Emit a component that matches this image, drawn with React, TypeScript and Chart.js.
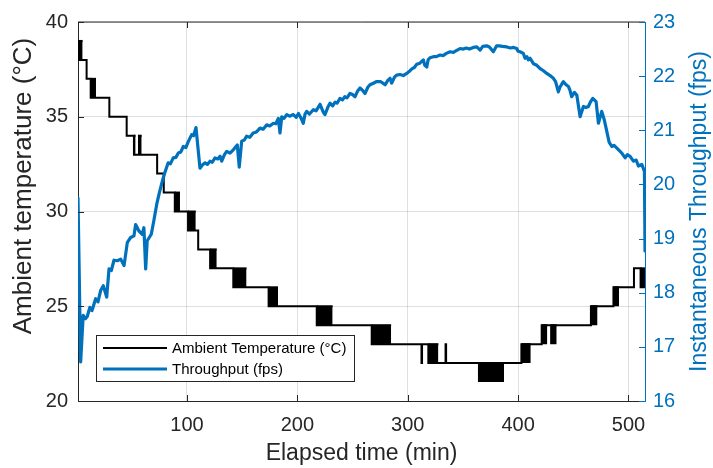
import React, { useEffect, useRef } from 'react';
import { Chart, registerables } from 'chart.js';

Chart.register(...registerables);

// ---- Data ----
const xTicks = [100, 200, 300, 400, 500];
const leftTicks = [20, 25, 30, 35, 40];
const rightTicks = [16, 17, 18, 19, 20, 21, 22, 23];

const tempLabel = 'Ambient Temperature (°C)';
const fpsLabel = 'Throughput (fps)';
const xTitle = 'Elapsed time (min)';
const leftTitle = 'Ambient temperature (°C)';
const rightTitle = 'Instantaneous Throughput (fps)';

// temperature change points: [time (min), new temperature]
const tempSteps: [number, number][] = [
  [1.3, 38], [9.1, 37], [12.8, 36], [29.7, 35], [45.4, 34], [52, 33], [73, 32], [79, 31],
  [89, 30], [101, 29], [110.2, 28], [121, 27], [142, 26], [174, 25], [217.6, 24], [267.4, 23],
  [312.5, 22], [313, 23], [318.7, 22], [334.3, 23], [334.8, 22], [403, 23], [421.4, 24],
  [466, 25], [486.4, 26], [505, 27], [511, 26], [515, 26],
];

// periods where the sensor toggled between two values: [start, end, low, high]
const tempBands: [number, number, number, number][] = [
  [1.3, 5.5, 38, 39], [12.8, 17.6, 36, 37], [52, 53.5, 33, 34], [55.6, 59, 33, 34],
  [89, 93.7, 30, 31], [101, 108, 29, 30], [121, 127, 27, 28], [142, 154, 26, 27],
  [174, 182.5, 25, 26], [217.6, 232, 24, 25], [267.4, 285, 23, 24], [318.7, 327.8, 22, 23],
  [363.5, 387.3, 21, 22], [403, 411.5, 22, 23], [421.4, 426.5, 23, 24], [429, 435, 23, 24],
  [466, 472, 24, 25], [486.4, 491.5, 25, 26], [511, 515, 26, 27],
];

const fpsTime = [
  1.3, 3.7, 6.0, 8.0, 9.7, 12.0, 14.0, 17.3, 19.4, 21.8, 24.2, 27.3, 29.4, 31.5, 33.9, 36.9,
  40.0, 43.0, 46.0, 49.0, 52.0, 53.5, 56.5, 59.5, 61.0, 62.6, 64.0, 67.7, 70.0, 72.6, 74.7, 77.7,
  80.0, 83.0, 85.0, 87.6, 90.0, 92.2, 94.5, 96.7, 99.0, 101.2, 104.3, 106.0, 108.2, 111.8, 114.0,
  116.4, 118.5, 120.9, 123.0, 125.4, 128.0, 130.0, 131.5, 134.0, 136.0, 139.0, 142.0, 145.6,
  147.4, 149.6, 152.0, 154.0, 157.0, 160.0, 163.0, 166.2, 169.0, 172.3, 175.0, 178.3, 180.5,
  182.8, 184.3, 185.9, 188.0, 190.4, 193.0, 196.4, 199.0, 201.0, 203.5, 205.4, 207.0, 208.5,
  211.0, 214.5, 217.0, 220.6, 223.6, 225.0, 228.0, 229.6, 232.0, 234.2, 236.0, 238.7, 241.0,
  243.0, 245.0, 247.7, 250.0, 252.3, 254.5, 256.8, 259.0, 261.3, 264.0, 265.8, 268.9, 271.9,
  275.0, 277.0, 279.5, 282.0, 284.0, 285.5, 288.0, 290.0, 293.0, 296.0, 299.1, 301.0, 304.0,
  306.0, 308.2, 311.0, 314.2, 315.5, 317.3, 318.5, 320.2, 323.3, 326.0, 329.3, 332.3, 335.0,
  338.4, 341.4, 344.0, 347.5, 350.4, 353.0, 356.0, 359.5, 362.6, 365.6, 368.0, 371.6, 374.0,
  377.6, 380.6, 383.0, 386.0, 389.8, 393.0, 396.0, 398.8, 400.0, 401.8, 404.8, 406.3, 408.0,
  409.3, 410.9, 413.9, 417.0, 420.0, 423.0, 426.0, 429.0, 432.0, 434.0, 436.5, 438.0, 441.0,
  443.0, 445.6, 447.0, 448.6, 451.0, 453.2, 456.2, 459.2, 461.5, 463.7, 465.5, 467.7, 470.7,
  472.8, 475.8, 478.0, 480.4, 482.5, 484.9, 487.0, 489.5, 492.0, 494.0, 497.0, 499.0, 501.5,
  504.5, 507.0, 509.0, 512.1, 514.5, 515.0,
];
const fpsValue = [
  19.75, 16.72, 17.58, 17.52, 17.56, 17.73, 17.67, 17.89, 17.83, 18.04, 18.13, 17.92, 18.44, 18.41, 18.60, 18.59,
  18.62, 18.50, 18.93, 19.02, 19.05, 19.26, 19.14, 19.08, 19.20, 18.44, 18.96, 19.08, 19.33, 19.63, 19.82, 20.06,
  20.22, 20.40, 20.38, 20.49, 20.50, 20.58, 20.60, 20.70, 20.68, 20.79, 20.92, 20.90, 21.05, 20.30, 20.36,
  20.40, 20.37, 20.43, 20.41, 20.49, 20.47, 20.52, 20.43, 20.55, 20.61, 20.58, 20.64, 20.73,
  20.32, 20.80, 20.82, 20.89, 20.87, 20.95, 20.97, 21.04, 21.02, 21.10, 21.08, 21.13, 21.12,
  21.22, 20.95, 21.25, 21.22, 21.29, 21.26, 21.29, 21.24, 21.31, 21.22, 21.13, 21.30, 21.35,
  21.30, 21.38, 21.36, 21.48, 21.33, 21.29, 21.44, 21.50, 21.45, 21.52, 21.50, 21.59, 21.56,
  21.62, 21.60, 21.68, 21.66, 21.62, 21.72, 21.78, 21.74, 21.68, 21.80, 21.84, 21.87, 21.90,
  21.90, 21.88, 21.84, 21.92, 21.96, 21.87, 21.98, 22.02, 22.03, 22.01, 22.05, 22.08, 22.14,
  22.16, 22.22, 22.24, 22.30, 22.20, 22.17, 22.30, 22.34, 22.36, 22.36, 22.39, 22.38, 22.42,
  22.45, 22.44, 22.47, 22.51, 22.50, 22.52, 22.50, 22.53, 22.54, 22.48, 22.55, 22.56, 22.54,
  22.45, 22.56, 22.56, 22.55, 22.54, 22.52, 22.53, 22.51, 22.46, 22.45, 22.42, 22.33, 22.36,
  22.30, 22.33, 22.23, 22.20, 22.14, 22.10, 22.05, 22.01, 21.96, 21.90, 21.71, 21.80, 21.90,
  21.85, 21.81, 21.74, 21.62, 21.70, 21.65, 21.25, 21.44, 21.42, 21.44, 21.52, 21.59, 21.53,
  21.13, 21.35, 21.20, 20.98, 20.78, 20.70, 20.72, 20.67, 20.62, 20.58, 20.49, 20.55, 20.52,
  20.43, 20.45, 20.34, 20.37, 20.24, 18.77,
];

// ---- Styling ----
const FONT = '"Liberation Sans", Arial, Helvetica, sans-serif';
const TEXT = '#262626';
const BLUE = '#0072BD';
const GRID = 'rgba(38,38,38,0.15)';

const decorPlugin = {
  id: 'matlabDecor',
  afterDraw(chart: any) {
    const { ctx, chartArea: a, scales } = chart;
    ctx.save();
    // top box line
    ctx.strokeStyle = TEXT;
    ctx.lineWidth = 1;
    ctx.beginPath();
    ctx.moveTo(a.left, a.top);
    ctx.lineTo(a.right, a.top);
    ctx.stroke();
    // inward ticks
    const tl = 6;
    ctx.beginPath();
    xTicks.forEach((v) => {
      const px = Math.round(scales.x.getPixelForValue(v)) + 0.5;
      ctx.moveTo(px, a.bottom); ctx.lineTo(px, a.bottom - tl);
      ctx.moveTo(px, a.top); ctx.lineTo(px, a.top + tl);
    });
    leftTicks.forEach((v) => {
      const py = Math.round(scales.y.getPixelForValue(v)) + 0.5;
      ctx.moveTo(a.left, py); ctx.lineTo(a.left + tl, py);
    });
    ctx.stroke();
    ctx.strokeStyle = BLUE;
    ctx.beginPath();
    rightTicks.forEach((v) => {
      const py = Math.round(scales.y1.getPixelForValue(v)) + 0.5;
      ctx.moveTo(a.right, py); ctx.lineTo(a.right - tl, py);
    });
    ctx.stroke();

    // y titles (both read bottom-to-top)
    ctx.textAlign = 'center';
    ctx.textBaseline = 'middle';
    ctx.fillStyle = TEXT;
    ctx.font = `26px ${FONT}`;
    ctx.save();
    ctx.translate(24, 186);
    ctx.rotate(-Math.PI / 2);
    ctx.fillText(leftTitle, 0, 0);
    ctx.restore();
    ctx.fillStyle = BLUE;
    ctx.font = `23px ${FONT}`;
    ctx.save();
    ctx.translate(700, (a.top + a.bottom) / 2);
    ctx.rotate(-Math.PI / 2);
    ctx.fillText(rightTitle, 0, 0);
    ctx.restore();

    // legend
    const lx = 96.5, ly = 335.5, lw = 258, lh = 46;
    ctx.fillStyle = '#ffffff';
    ctx.fillRect(lx, ly, lw, lh);
    ctx.strokeStyle = TEXT;
    ctx.lineWidth = 1;
    ctx.strokeRect(lx, ly, lw, lh);
    const items = [
      { label: tempLabel, color: '#000000', width: 2, y: 348 },
      { label: fpsLabel, color: BLUE, width: 3, y: 369 },
    ];
    ctx.font = `15px ${FONT}`;
    ctx.textAlign = 'left';
    items.forEach((it) => {
      ctx.strokeStyle = it.color;
      ctx.lineWidth = it.width;
      ctx.beginPath();
      ctx.moveTo(103, it.y); ctx.lineTo(167, it.y);
      ctx.stroke();
      ctx.fillStyle = '#000000';
      ctx.fillText(it.label, 172, it.y + 1);
    });
    ctx.restore();
  },
};

export default function App() {
  const ref = useRef<HTMLCanvasElement | null>(null);

  useEffect(() => {
    if (!ref.current) return;
    const bandSets = tempBands.map(([s, e, lo, hi]) => ({
      type: 'line' as const,
      label: '',
      yAxisID: 'y',
      data: [{ x: s, y: hi }, { x: e, y: hi }],
      borderColor: '#000000',
      backgroundColor: '#000000',
      borderWidth: 2,
      pointRadius: 0,
      fill: { value: lo },
    }));
    const chart = new Chart(ref.current, {
      type: 'line',
      data: {
        datasets: [
          {
            label: fpsLabel,
            yAxisID: 'y1',
            data: fpsTime.map((t, i) => ({ x: t, y: fpsValue[i] })),
            borderColor: BLUE,
            borderWidth: 3.2,
            borderJoinStyle: 'round',
            borderCapStyle: 'round',
            pointRadius: 0,
            fill: false,
            tension: 0,
          },
          {
            label: tempLabel,
            yAxisID: 'y',
            data: tempSteps.map(([t, v]) => ({ x: t, y: v })),
            borderColor: '#000000',
            borderWidth: 2,
            pointRadius: 0,
            stepped: true,
            fill: false,
          },
          ...bandSets,
        ] as any,
      },
      options: {
        responsive: false,
        animation: false,
        layout: { padding: { top: 20, left: 0, right: 0, bottom: 0 } },
        plugins: {
          legend: { display: false },
          tooltip: { enabled: false },
        },
        font: { family: FONT },
        scales: {
          x: {
            type: 'linear',
            min: 1.3,
            max: 515,
            afterBuildTicks: (s: any) => { s.ticks = xTicks.map((v) => ({ value: v })); },
            afterFit: (s: any) => { s.height = 67; },
            grid: { color: GRID, drawTicks: false },
            border: { color: TEXT, width: 1 },
            ticks: { color: TEXT, font: { family: FONT, size: 20 }, padding: 12, maxRotation: 0 },
            title: {
              display: true,
              text: xTitle,
              color: TEXT,
              font: { family: FONT, size: 23 },
              padding: { top: 0, bottom: 1 },
            },
          },
          y: {
            type: 'linear',
            position: 'left',
            min: 20,
            max: 40,
            afterBuildTicks: (s: any) => { s.ticks = leftTicks.map((v) => ({ value: v })); },
            afterFit: (s: any) => { s.width = 78; },
            grid: { color: GRID, drawTicks: false },
            border: { color: TEXT, width: 1 },
            ticks: { color: TEXT, font: { family: FONT, size: 20 }, padding: 10 },
          },
          y1: {
            type: 'linear',
            position: 'right',
            min: 16,
            max: 23,
            afterBuildTicks: (s: any) => { s.ticks = rightTicks.map((v) => ({ value: v })); },
            afterFit: (s: any) => { s.width = 68; },
            grid: { drawOnChartArea: false, drawTicks: false },
            border: { color: BLUE, width: 1 },
            ticks: { color: BLUE, font: { family: FONT, size: 20 }, padding: 8 },
          },
        },
      } as any,
      plugins: [decorPlugin],
    });
    return () => chart.destroy();
  }, []);

  return (
    <div style={{ position: 'fixed', left: 0, top: 0, width: 713, height: 468, background: '#fff' }}>
      <canvas ref={ref} width={713} height={468} />
    </div>
  );
}
